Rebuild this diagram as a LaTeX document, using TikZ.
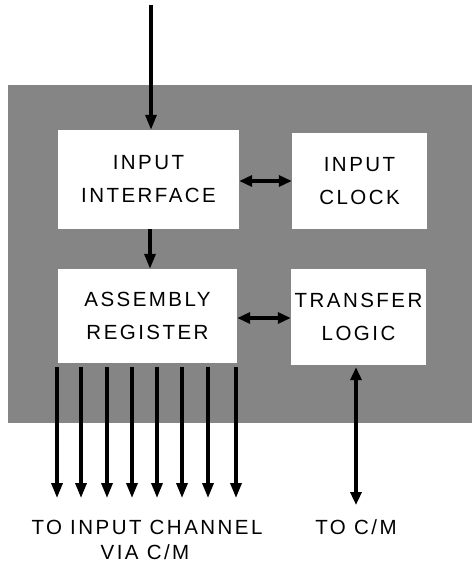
\documentclass[tikz,border=0pt]{standalone}
\usepackage{fontspec}
\setmainfont{Liberation Sans}[LetterSpace=12]
\usetikzlibrary{arrows.meta,calc}
\begin{document}
\begin{tikzpicture}[x=1pt,y=-1pt,
  blk/.style={fill=white,draw=none,align=center,font=\fontsize{20.5}{33}\selectfont,inner sep=0pt},
  lbl/.style={align=center,font=\fontsize{20.5}{25}\selectfont,inner sep=0pt},
  arr/.style={line width=3.3pt,-{Triangle[length=15pt,width=11pt]}},
  darr/.style={line width=3.3pt,{Triangle[length=13pt,width=11pt]}-{Triangle[length=13pt,width=11pt]}}]
\useasboundingbox (0,0) rectangle (472,569);
\fill[black!48] (8,85) rectangle (472,423);
\node[blk,minimum width=181pt,minimum height=99pt] (ii) at (148.5,179.5) {INPUT\\INTERFACE};
\node[blk,minimum width=135pt,minimum height=96pt] (ic) at (359.5,181) {INPUT\\CLOCK};
\node[blk,minimum width=179pt,minimum height=94pt] (ar) at (147.5,316) {ASSEMBLY\\REGISTER};
\node[blk,minimum width=135pt,minimum height=96pt] (tl) at (358.5,317) {TRANSFER\\LOGIC};
\coordinate (in) at (151,5);
\draw[arr] (in) -- (ii.north -| in);
\draw[arr] ($(ii.south)+(1.5,0)$) -- ($(ar.north)+(2.5,0)$);
\draw[darr] (ii.east |- 0,181) -- (ic.west |- 0,181);
\draw[darr] (ar.east |- 0,318) -- (tl.west |- 0,318);
\foreach \i/\x in {1/57,2/81,3/107,4/132,5/157,6/182,7/208,8/236}{
  \coordinate (o\i) at (\x,498);
  \draw[arr] ($(ar.south)+(\x-147.5,4)$) -- (o\i);
}
\coordinate (cm) at (356,505);
\draw[darr] ($(tl.south)+(-2.5,2)$) -- (cm);
\node[lbl] (t1) at (147,527) {TO INPUT CHANNEL};
\node[lbl] (t2) at (145,552) {VIA C/M};
\node[lbl] (t3) at (356,527) {TO C/M};
\end{tikzpicture}
\end{document}
